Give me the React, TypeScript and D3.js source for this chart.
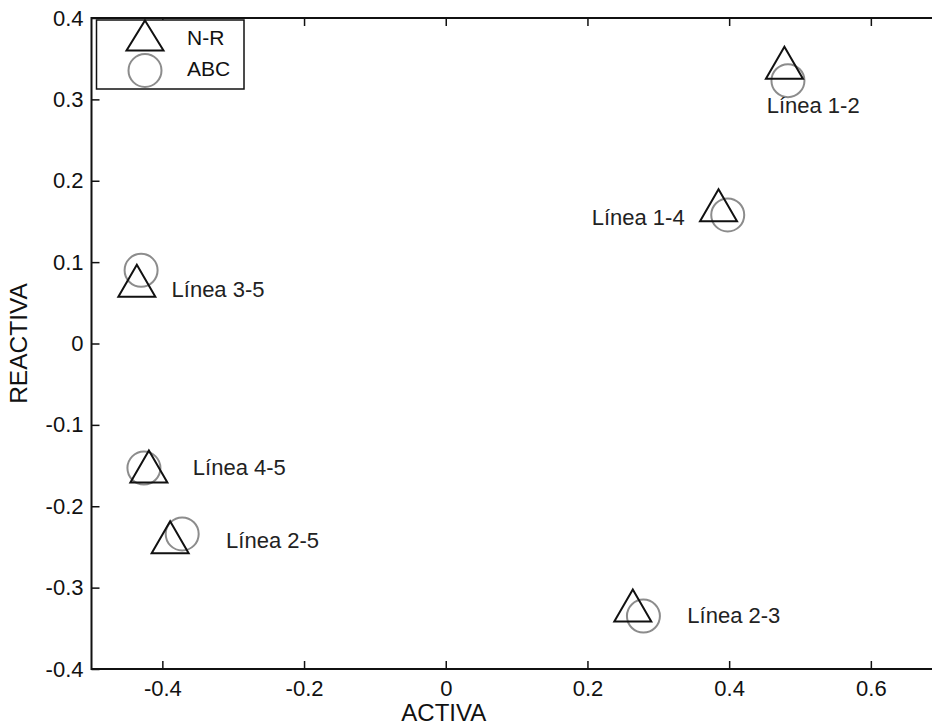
import React, { useRef, useEffect } from 'react';
import * as d3 from 'd3';

// series values (ACTIVA, REACTIVA)
const lineas = ['Línea 1-2', 'Línea 1-4', 'Línea 3-5', 'Línea 4-5', 'Línea 2-5', 'Línea 2-3'];
const nrActiva = [0.478, 0.385, -0.436, -0.419, -0.389, 0.264];
const nrReactiva = [0.345, 0.170, 0.077, -0.151, -0.238, -0.322];
const abcActiva = [0.483, 0.398, -0.430, -0.426, -0.372, 0.279];
const abcReactiva = [0.323, 0.158, 0.090, -0.153, -0.234, -0.335];
// text anchors (data units, left-aligned)
const labelActiva = [0.453, 0.206, -0.387, -0.357, -0.310, 0.341];
const labelReactiva = [0.293, 0.155, 0.067, -0.152, -0.2415, -0.334];

const xTicks = [-0.4, -0.2, 0, 0.2, 0.4, 0.6];
const xTickLabels = ['-0.4', '-0.2', '0', '0.2', '0.4', '0.6'];
const yTicks = [-0.4, -0.3, -0.2, -0.1, 0, 0.1, 0.2, 0.3, 0.4];
const yTickLabels = ['-0.4', '-0.3', '-0.2', '-0.1', '0', '0.1', '0.2', '0.3', '0.4'];
const legendNames = ['N-R', 'ABC'];

const FONT = '"Liberation Sans", Arial, sans-serif';
const GRAY = 'rgb(140,140,140)';

const triPath = (w: number, h: number) => `M0,${-h / 2}L${w / 2},${h / 2}L${-w / 2},${h / 2}Z`;

const App: React.FC = () => {
    const svgRef = useRef<SVGSVGElement | null>(null);
    const width = 932;
    const height = 728;
    const margin = { top: 18, left: 91.5, bottom: 59 };

    useEffect(() => {
        document.body.style.margin = '0';
        if (!svgRef.current) return;
        const svg = d3.select(svgRef.current);
        svg.selectAll('*').remove();

        svg.append('rect').attr('width', width).attr('height', height).attr('fill', 'white');

        const x = d3.scaleLinear().domain([-0.5, 0.7]).range([margin.left, margin.left + 1.2 * 708.5]);
        const y = d3.scaleLinear().domain([-0.4, 0.4]).range([height - margin.bottom, margin.top]);
        const x0 = x.range()[0], x1 = x.range()[1];
        const y0 = y.range()[0], y1 = y.range()[1];

        const styleAxis = (g: any) => {
            g.select('.domain').remove();
            g.selectAll('line').attr('stroke', '#111').attr('stroke-width', 1.5);
            g.selectAll('text').attr('font-family', FONT).attr('font-size', 22).attr('fill', '#111');
        };

        svg.append('g').attr('transform', `translate(0,${y0})`)
            .call(d3.axisBottom(x).tickValues(xTicks).tickSize(-8).tickPadding(11)
                .tickFormat((_, i) => xTickLabels[i]))
            .call(styleAxis);
        svg.append('g').attr('transform', `translate(0,${y1})`)
            .call(d3.axisTop(x).tickValues(xTicks).tickSize(-8).tickFormat(() => ''))
            .call(styleAxis);
        svg.append('g').attr('transform', `translate(${x0},0)`)
            .call(d3.axisLeft(y).tickValues(yTicks).tickSize(-8).tickPadding(8)
                .tickFormat((_, i) => yTickLabels[i]))
            .call(styleAxis);
        svg.append('g').attr('transform', `translate(${x1},0)`)
            .call(d3.axisRight(y).tickValues(yTicks).tickSize(-8).tickFormat(() => ''))
            .call(styleAxis);

        // box
        svg.append('rect')
            .attr('x', x0).attr('y', y1).attr('width', x1 - x0).attr('height', y0 - y1)
            .attr('fill', 'none').attr('stroke', '#111').attr('stroke-width', 2);

        // axis titles
        svg.append('text')
            .attr('x', x(0) - 2).attr('y', height - 7)
            .attr('text-anchor', 'middle').attr('font-family', FONT).attr('font-size', 24).attr('fill', '#111')
            .text('ACTIVA');
        svg.append('text')
            .attr('transform', `translate(27,${y(0)}) rotate(-90)`)
            .attr('text-anchor', 'middle').attr('font-family', FONT).attr('font-size', 24.5).attr('fill', '#111')
            .text('REACTIVA');

        const idx = d3.range(lineas.length);

        // ABC circles
        svg.append('g').selectAll('circle').data(idx).join('circle')
            .attr('cx', i => x(abcActiva[i])).attr('cy', i => y(abcReactiva[i]))
            .attr('r', 16.5).attr('fill', 'none').attr('stroke', GRAY).attr('stroke-width', 2);

        // N-R triangles
        svg.append('g').selectAll('path').data(idx).join('path')
            .attr('d', triPath(37, 32))
            .attr('transform', i => `translate(${x(nrActiva[i])},${y(nrReactiva[i])})`)
            .attr('fill', 'none').attr('stroke', '#111').attr('stroke-width', 2).attr('stroke-linejoin', 'miter');

        // labels
        svg.append('g').selectAll('text').data(idx).join('text')
            .attr('x', i => x(labelActiva[i])).attr('y', i => y(labelReactiva[i]))
            .attr('dy', '0.35em')
            .attr('font-family', FONT).attr('font-size', 22).attr('fill', '#222')
            .text(i => lineas[i]);

        // legend
        const lg = svg.append('g').attr('transform', `translate(${x0 + 5},${y1 + 2})`);
        lg.append('rect').attr('width', 147.5).attr('height', 69)
            .attr('fill', 'white').attr('stroke', '#111').attr('stroke-width', 1.5);
        lg.append('path').attr('d', triPath(37, 30)).attr('transform', 'translate(48.5,15.5)')
            .attr('fill', 'none').attr('stroke', '#111').attr('stroke-width', 2);
        lg.append('circle').attr('cx', 48.5).attr('cy', 50.5).attr('r', 16.5)
            .attr('fill', 'none').attr('stroke', GRAY).attr('stroke-width', 2);
        lg.selectAll('text.leg').data(legendNames).join('text')
            .attr('class', 'leg')
            .attr('x', 90.5).attr('y', (_, i) => 25 + i * 31)
            .attr('font-family', FONT).attr('font-size', 21).attr('fill', '#111')
            .text(d => d);
    }, []);

    return <svg ref={svgRef} width={width} height={height} style={{ display: 'block' }}></svg>;
};

export default App;
